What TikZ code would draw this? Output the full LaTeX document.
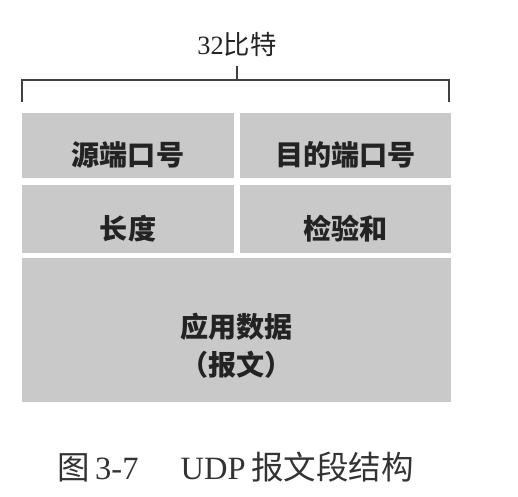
\documentclass[tikz,border=0pt]{standalone}
\usepackage{fontspec}
\setmainfont{Liberation Serif}
\newfontfamily\cjk{Noto Sans CJK SC}
\definecolor{fieldgray}{RGB}{201,201,201}
\definecolor{inkgray}{RGB}{35,35,35}

\begin{document}
\begin{tikzpicture}[x=0.02cm, y=-0.02cm,
  field/.style={fill=fieldgray, inner sep=0pt, text=inkgray,
    font=\cjk\bfseries\fontsize{16}{19}\selectfont},
  halfbox/.style={field, minimum width=4.23cm, minimum height=1.32cm,
    text height=23pt, text depth=0pt},
  brace/.style={draw=black!75, line width=0.6pt}]

  % --- 画布 (像素坐标, y 向下) ---
  \useasboundingbox (0,0) rectangle (518,497);

  % 1. 首部字段 (两行, 每行两个 16 比特字段)
  \node[halfbox] (src) at (128,145.5) {源端口号};
  \node[halfbox] (dst) at (345.5,145.5) {目的端口号};
  \node[halfbox, minimum height=1.36cm] (len) at (128,219) {长度};
  \node[halfbox, minimum height=1.36cm] (chk) at (345.5,219) {检验和};

  % 2. 数据部分
  \node[field, minimum width=8.58cm, minimum height=2.9cm] (data) at (236.5,330) {};
  \node[field, fill=none, align=center, font=\cjk\bfseries\fontsize{16}{22}\selectfont]
    (datatext) at ([yshift=-9pt]data.center) {应用数据\\（报文）};

  % 3. 宽度标注 32比特
  \coordinate (braceL) at (22,102);
  \coordinate (braceR) at (449,102);
  \coordinate (braceM) at (237,80);
  \draw[brace] (braceL) -- ++(0,-22) -| (braceR);
  \draw[brace] (braceM) -- ++(0,-14);
  \node[inner sep=0pt, text=inkgray, font=\fontsize{15}{18}\selectfont]
    (bits) at (237,44) {32{\cjk 比特}};

  % 4. 图题
  \node[inner sep=0pt, text=black!80, font=\fontsize{18.5}{22}\selectfont]
    (caption) at (235.5,467)
    {{\cjk 图}\hspace{3pt}3-7\hspace{24pt}UDP\hspace{3pt}{\cjk 报文段结构}};

\end{tikzpicture}
\end{document}
